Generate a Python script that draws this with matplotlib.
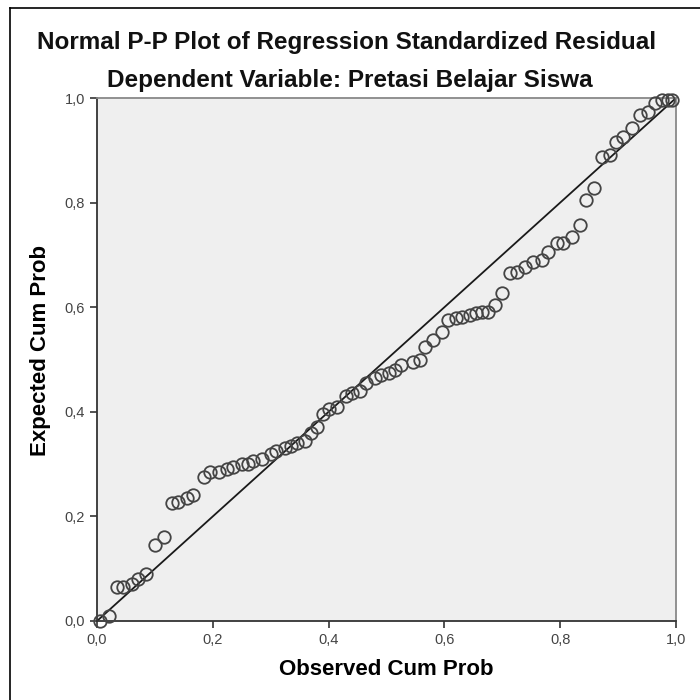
import matplotlib
matplotlib.use('Agg')
import matplotlib.pyplot as plt
from matplotlib.lines import Line2D
from matplotlib.ticker import FuncFormatter

# observed vs expected cumulative probabilities
observed = [0.005, 0.02, 0.035, 0.045, 0.06, 0.07, 0.085, 0.10, 0.115, 0.13,
            0.14, 0.155, 0.165, 0.185, 0.195, 0.21, 0.225, 0.235, 0.25, 0.26,
            0.27, 0.285, 0.30, 0.31, 0.325, 0.335, 0.345, 0.36, 0.37, 0.38,
            0.39, 0.40, 0.415, 0.43, 0.44, 0.455, 0.465, 0.48, 0.49, 0.505,
            0.515, 0.525, 0.545, 0.558, 0.567, 0.58, 0.596, 0.606, 0.62, 0.63,
            0.645, 0.655, 0.665, 0.675, 0.687, 0.70, 0.713, 0.725, 0.739, 0.753,
            0.768, 0.779, 0.794, 0.805, 0.82, 0.834, 0.845, 0.859, 0.872, 0.886,
            0.897, 0.908, 0.924, 0.938, 0.952, 0.964, 0.976, 0.986, 0.993]
expected = [0.0, 0.01, 0.065, 0.065, 0.07, 0.08, 0.09, 0.145, 0.16, 0.225,
            0.228, 0.235, 0.24, 0.275, 0.285, 0.285, 0.29, 0.295, 0.30, 0.30,
            0.305, 0.31, 0.32, 0.325, 0.33, 0.335, 0.34, 0.345, 0.36, 0.37,
            0.395, 0.405, 0.41, 0.43, 0.435, 0.44, 0.455, 0.465, 0.47, 0.475,
            0.48, 0.49, 0.495, 0.50, 0.524, 0.537, 0.553, 0.575, 0.58, 0.582,
            0.585, 0.588, 0.59, 0.59, 0.604, 0.627, 0.665, 0.667, 0.677, 0.686,
            0.69, 0.705, 0.722, 0.722, 0.734, 0.757, 0.805, 0.828, 0.887, 0.891,
            0.915, 0.925, 0.943, 0.967, 0.973, 0.99, 0.996, 0.996, 0.996]
ticks = [0.0, 0.2, 0.4, 0.6, 0.8, 1.0]

plt.rcParams['font.family'] = ['Liberation Sans', 'DejaVu Sans']

fig = plt.figure(figsize=(7, 7), dpi=100)
ax = fig.add_axes([97 / 700, 79 / 700, 579 / 700, 523 / 700])
ax.set_facecolor('#efefef')

ax.plot([0, 1], [0, 1], color='#1a1a1a', lw=1.3, zorder=2)
ax.plot(observed, expected, 'o', ms=9, mfc='none', mec='#444444', mew=1.3,
        zorder=3, clip_on=False)

ax.set_xlim(0, 1)
ax.set_ylim(0, 1)
ax.set_xticks(ticks)
ax.set_yticks(ticks)
fmt = FuncFormatter(lambda v, pos: f'{v:.1f}'.replace('.', ','))
ax.xaxis.set_major_formatter(fmt)
ax.yaxis.set_major_formatter(fmt)
ax.tick_params(direction='out', length=5, width=1.2, colors='#333333',
               labelsize=10.5, labelcolor='#444444')

for side in ['left', 'bottom']:
    ax.spines[side].set_color('#333333')
    ax.spines[side].set_linewidth(1.3)
for side in ['top', 'right']:
    ax.spines[side].set_color('#888888')
    ax.spines[side].set_linewidth(1.3)

ax.set_xlabel('Observed Cum Prob', fontsize=16, fontweight='bold', labelpad=9)
ax.set_ylabel('Expected Cum Prob', fontsize=16, fontweight='bold')
ax.yaxis.set_label_coords(-0.079, 0.518)

fig.text(347 / 700, 1 - 42 / 700, 'Normal P-P Plot of Regression Standardized Residual',
         ha='center', va='center', fontsize=17.5, fontweight='bold', color='#111111')
fig.text(350 / 700, 1 - 80 / 700, 'Dependent Variable: Pretasi Belajar Siswa',
         ha='center', va='center', fontsize=17.5, fontweight='bold', color='#111111')

# outer frame (left and top edges visible)
fig.add_artist(Line2D([10 / 700, 10 / 700], [0, 1 - 8 / 700], transform=fig.transFigure,
                      color='black', lw=1.2))
fig.add_artist(Line2D([10 / 700, 1], [1 - 8 / 700, 1 - 8 / 700], transform=fig.transFigure,
                      color='black', lw=1.2))

fig.savefig('out.png', dpi=100)
